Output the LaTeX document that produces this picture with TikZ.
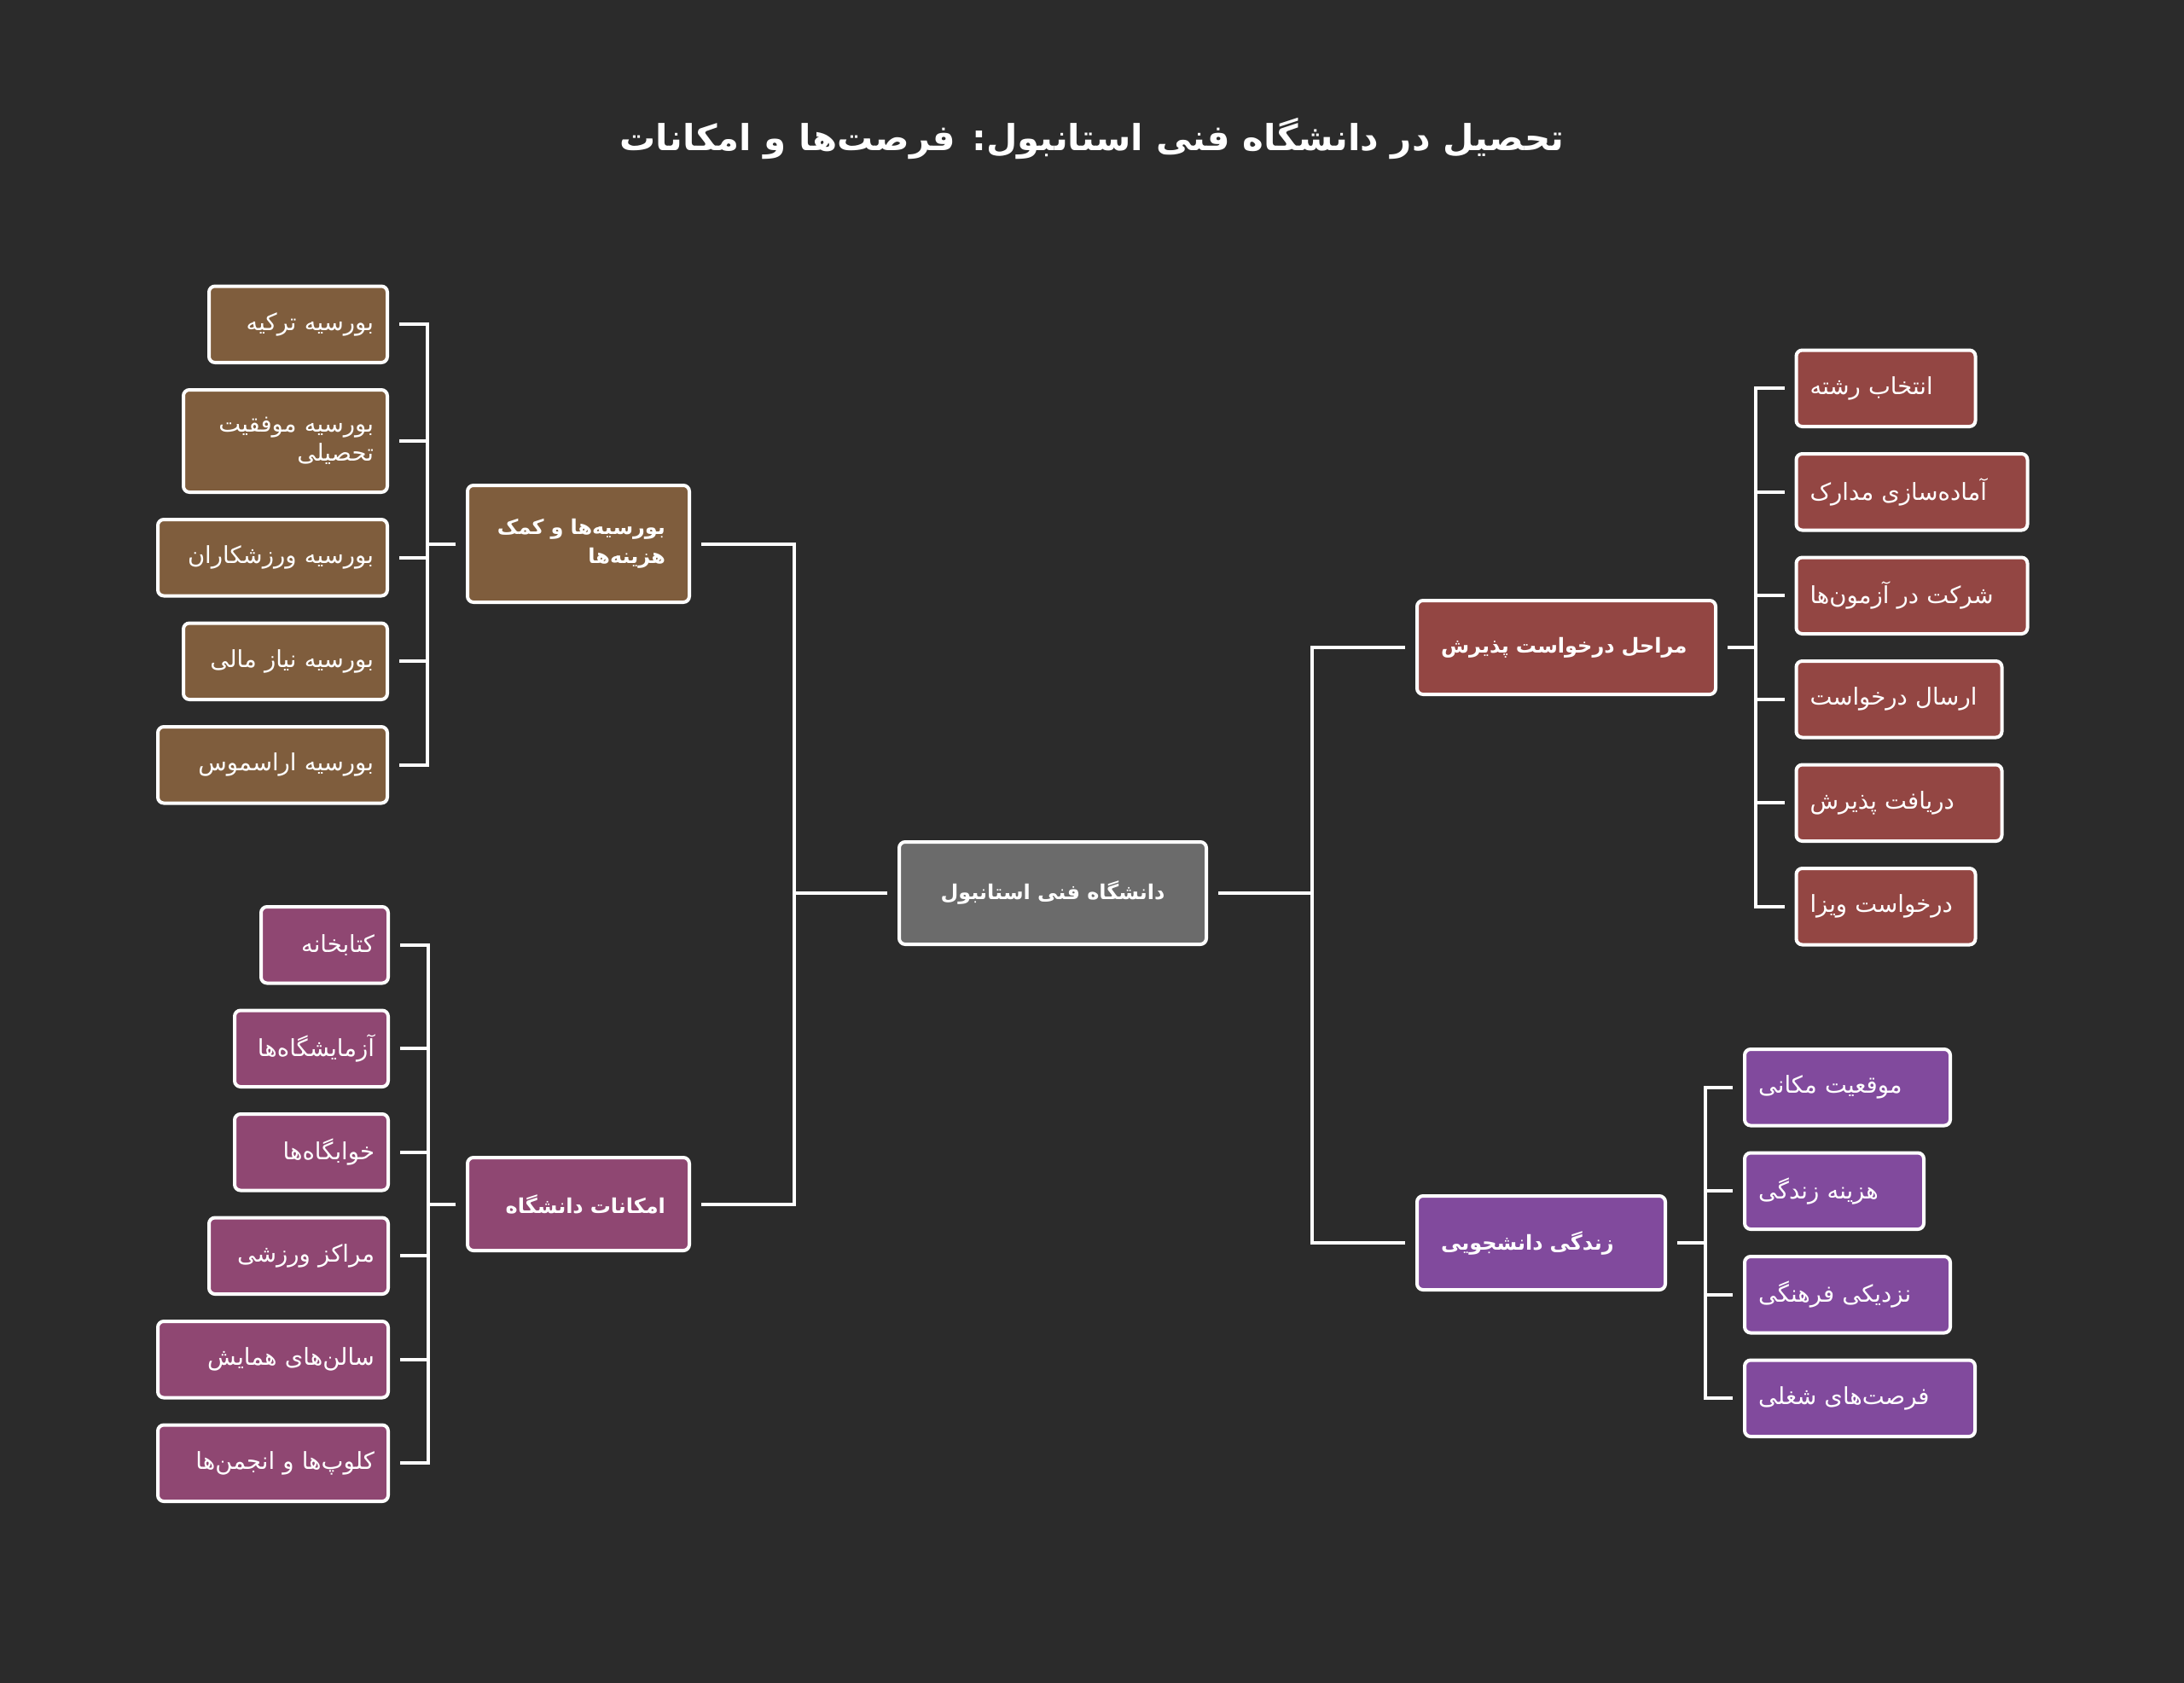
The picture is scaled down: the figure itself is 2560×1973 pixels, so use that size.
\documentclass[tikz,border=0pt]{standalone}
\usepackage{fontspec}
\setmainfont{DejaVu Sans}
\newfontfamily\arabicfont[Script=Arabic]{DejaVu Sans}
\TeXXeTstate=1
\usepackage{tikz}
\usetikzlibrary{positioning,calc}
\definecolor{bg}{RGB}{43, 43, 43}
\definecolor{gray}{RGB}{107, 107, 107}
\definecolor{brown}{RGB}{127, 93, 61}
\definecolor{plum}{RGB}{143, 71, 114}
\definecolor{red}{RGB}{147, 70, 67}
\definecolor{purple}{RGB}{129, 74, 157}
\tikzstyle{heading} = [text=white, font=\arabicfont\bfseries\fontsize{42}{52}\selectfont]
\tikzstyle{unibox} = [rectangle, rounded corners=7pt, draw=white, line width=4pt, fill=gray, text=white, align=center, font=\arabicfont\bfseries\fontsize{24}{34}\selectfont, minimum width=360pt, minimum height=120pt]
\tikzstyle{grpL} = [rectangle, rounded corners=7pt, draw=white, line width=4pt, text=white, align=right, inner xsep=28pt, font=\arabicfont\bfseries\fontsize{24}{34}\selectfont, minimum height=109pt]
\tikzstyle{grpR} = [rectangle, rounded corners=7pt, draw=white, line width=4pt, text=white, align=left, inner xsep=28pt, font=\arabicfont\bfseries\fontsize{24}{34}\selectfont, minimum height=110pt]
\tikzstyle{leafL} = [rectangle, rounded corners=7pt, draw=white, line width=4pt, text=white, align=right, inner xsep=16pt, font=\arabicfont\fontsize{27.5}{34}\selectfont, minimum height=89.5pt]
\tikzstyle{leafR} = [rectangle, rounded corners=7pt, draw=white, line width=4pt, text=white, align=left, inner xsep=16pt, font=\arabicfont\fontsize{27.5}{34}\selectfont, minimum height=89.5pt]
\tikzstyle{tedge} = [draw=white, line width=4pt, shorten <=12pt, shorten >=12pt]

\begin{document}
\begin{tikzpicture}
\fill[bg] (0,0) rectangle (2560pt,-1973pt);
\useasboundingbox (0,0) rectangle (2560pt,-1973pt);

% title ==================================
\node[heading] (ttl) at (1280pt,-163pt) {\beginR تحصیل در دانشگاه فنی استانبول: فرصت^^^^200cها و امکانات\endR};

% university =============================
\node[unibox] (uni) at (1234pt,-1047pt) {\beginR دانشگاه فنی استانبول\endR};

% groups
\node[grpL, fill=brown, text width=204pt, minimum height=137pt, above left=277pt and 242pt of uni] (grant) {\beginR بورسیه^^^^200cها و کمک\endR\\\beginR هزینه^^^^200cها\endR};
\node[grpL, fill=plum, text width=204pt, below left=246pt and 242pt of uni] (campus) {\beginR امکانات دانشگاه\endR};
\node[grpR, fill=red, text width=294pt, above right=169pt and 243pt of uni] (steps) {\beginR مراحل درخواست پذیرش\endR};
\node[grpR, fill=purple, text width=235pt, below right=291pt and 243pt of uni] (life) {\beginR زندگی دانشجویی\endR};

% scholarships
\node[leafL, fill=brown, text width=177pt, above left=140pt and 90pt of grant] (grant1) {\beginR بورسیه ترکیه\endR};
\node[leafL, fill=brown, text width=207pt, minimum height=120pt, below left=28pt and 0pt of grant1.south east] (grant2) {\beginR بورسیه موفقیت\endR\\\beginR تحصیلی\endR};
\node[leafL, fill=brown, text width=237pt, below left=28pt and 0pt of grant2.south east] (grant3) {\beginR بورسیه ورزشکاران\endR};
\node[leafL, fill=brown, text width=207pt, below left=28pt and 0pt of grant3.south east] (grant4) {\beginR بورسیه نیاز مالی\endR};
\node[leafL, fill=brown, text width=237pt, below left=28pt and 0pt of grant4.south east] (grant5) {\beginR بورسیه اراسموس\endR};

% campus facilities
\node[leafL, fill=plum, text width=117pt, above left=200.5pt and 89pt of campus] (campus1) {\beginR کتابخانه\endR};
\node[leafL, fill=plum, text width=148pt, below left=28pt and 0pt of campus1.south east] (campus2) {\beginR آزمایشگاه^^^^200cها\endR};
\node[leafL, fill=plum, text width=148pt, below left=28pt and 0pt of campus2.south east] (campus3) {\beginR خوابگاه^^^^200cها\endR};
\node[leafL, fill=plum, text width=178pt, below left=28pt and 0pt of campus3.south east] (campus4) {\beginR مراکز ورزشی\endR};
\node[leafL, fill=plum, text width=238pt, below left=28pt and 0pt of campus4.south east] (campus5) {\beginR سالن^^^^200cهای همایش\endR};
\node[leafL, fill=plum, text width=238pt, below left=28pt and 0pt of campus5.south east] (campus6) {\beginR کلوپ^^^^200cها و انجمن^^^^200cها\endR};

% application steps
\node[leafR, fill=red, text width=178pt, above right=200pt and 90.5pt of steps] (step1) {\beginR انتخاب رشته\endR};
\node[leafR, fill=red, text width=239pt, below right=28pt and 0pt of step1.south west] (step2) {\beginR آماده^^^^200cسازی مدارک\endR};
\node[leafR, fill=red, text width=239pt, below right=28pt and 0pt of step2.south west] (step3) {\beginR شرکت در آزمون^^^^200cها\endR};
\node[leafR, fill=red, text width=209pt, below right=28pt and 0pt of step3.south west] (step4) {\beginR ارسال درخواست\endR};
\node[leafR, fill=red, text width=209pt, below right=28pt and 0pt of step4.south west] (step5) {\beginR دریافت پذیرش\endR};
\node[leafR, fill=red, text width=178pt, below right=28pt and 0pt of step5.south west] (step6) {\beginR درخواست ویزا\endR};

% student life
\node[leafR, fill=purple, text width=209pt, above right=78.5pt and 89pt of life] (life1) {\beginR موقعیت مکانی\endR};
\node[leafR, fill=purple, text width=178pt, below right=28pt and 0pt of life1.south west] (life2) {\beginR هزینه زندگی\endR};
\node[leafR, fill=purple, text width=209pt, below right=28pt and 0pt of life2.south west] (life3) {\beginR نزدیکی فرهنگی\endR};
\node[leafR, fill=purple, text width=238pt, below right=28pt and 0pt of life3.south west] (life4) {\beginR فرصت^^^^200cهای شغلی\endR};

%edges
\path[tedge] (uni.west) -| ($(uni.west)!.5!(grant.east)$) |- (grant.east);
\path[tedge] (uni.west) -| ($(uni.west)!.5!(campus.east)$) |- (campus.east);
\path[tedge] (uni.east) -| ($(uni.east)!.5!(steps.west)$) |- (steps.west);
\path[tedge] (uni.east) -| ($(uni.east)!.5!(life.west)$) |- (life.west);

\path[tedge] (grant.west) -| ($(grant.west)!.5!(grant1.east)$) |- (grant1.east);
\path[tedge] (grant.west) -| ($(grant.west)!.5!(grant2.east)$) |- (grant2.east);
\path[tedge] (grant.west) -| ($(grant.west)!.5!(grant3.east)$) |- (grant3.east);
\path[tedge] (grant.west) -| ($(grant.west)!.5!(grant4.east)$) |- (grant4.east);
\path[tedge] (grant.west) -| ($(grant.west)!.5!(grant5.east)$) |- (grant5.east);

\path[tedge] (campus.west) -| ($(campus.west)!.5!(campus1.east)$) |- (campus1.east);
\path[tedge] (campus.west) -| ($(campus.west)!.5!(campus2.east)$) |- (campus2.east);
\path[tedge] (campus.west) -| ($(campus.west)!.5!(campus3.east)$) |- (campus3.east);
\path[tedge] (campus.west) -| ($(campus.west)!.5!(campus4.east)$) |- (campus4.east);
\path[tedge] (campus.west) -| ($(campus.west)!.5!(campus5.east)$) |- (campus5.east);
\path[tedge] (campus.west) -| ($(campus.west)!.5!(campus6.east)$) |- (campus6.east);

\path[tedge] (steps.east) -| ($(steps.east)!.5!(step1.west)$) |- (step1.west);
\path[tedge] (steps.east) -| ($(steps.east)!.5!(step2.west)$) |- (step2.west);
\path[tedge] (steps.east) -| ($(steps.east)!.5!(step3.west)$) |- (step3.west);
\path[tedge] (steps.east) -| ($(steps.east)!.5!(step4.west)$) |- (step4.west);
\path[tedge] (steps.east) -| ($(steps.east)!.5!(step5.west)$) |- (step5.west);
\path[tedge] (steps.east) -| ($(steps.east)!.5!(step6.west)$) |- (step6.west);

\path[tedge] (life.east) -| ($(life.east)!.5!(life1.west)$) |- (life1.west);
\path[tedge] (life.east) -| ($(life.east)!.5!(life2.west)$) |- (life2.west);
\path[tedge] (life.east) -| ($(life.east)!.5!(life3.west)$) |- (life3.west);
\path[tedge] (life.east) -| ($(life.east)!.5!(life4.west)$) |- (life4.west);

\end{tikzpicture}
\end{document}
